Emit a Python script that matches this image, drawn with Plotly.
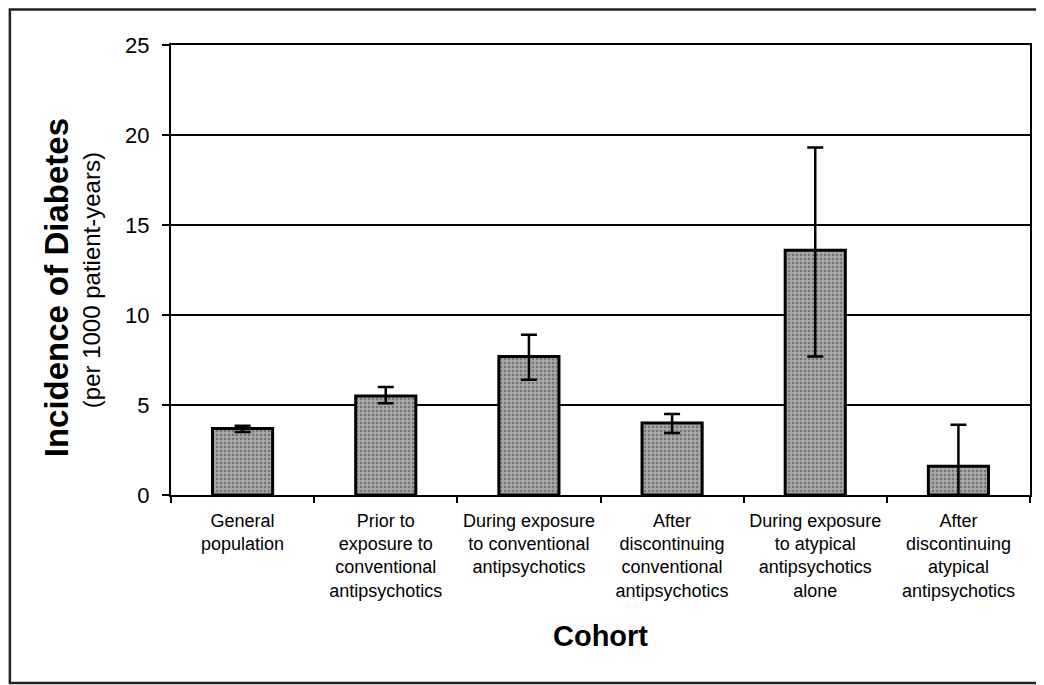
import plotly.graph_objects as go

# ---- data ----
categories = [
    "General<br>population",
    "Prior to<br>exposure to<br>conventional<br>antipsychotics",
    "During exposure<br>to conventional<br>antipsychotics",
    "After<br>discontinuing<br>conventional<br>antipsychotics",
    "During exposure<br>to atypical<br>antipsychotics<br>alone",
    "After<br>discontinuing<br>atypical<br>antipsychotics",
]
incidence = [3.7, 5.5, 7.7, 4.0, 13.6, 1.6]
err_plus = [0.15, 0.5, 1.2, 0.5, 5.7, 2.3]
err_minus = [0.2, 0.4, 1.3, 0.55, 5.9, 1.6]
y_ticks = [0, 5, 10, 15, 20, 25]

# ---- layout geometry (page pixels; the page body adds an 8px offset) ----
OFF = 8
W, H = 1044 - OFF, 685 - OFF
PLOT_L, PLOT_R, PLOT_T, PLOT_B = 171, 1032, 45, 495  # page pixels
ML = PLOT_L - OFF
MT = PLOT_T - OFF
MR = W - (PLOT_R - OFF)
MB = H - (PLOT_B - OFF)
PW, PH = W - ML - MR, H - MT - MB


def px_x(p):
    return (p - OFF - ML) / PW


def px_y(p):
    return (H - MB - (p - OFF)) / PH


FONT = "Arial, Liberation Sans, Helvetica, sans-serif"

fig = go.Figure()
fig.add_trace(go.Bar(
    x=categories,
    y=incidence,
    width=0.42,
    marker=dict(
        color="#a8a8a8",
        line=dict(color="black", width=3),
        pattern=dict(shape=".", fgcolor="#404040", size=4, solidity=0.3, fillmode="overlay"),
    ),
    error_y=dict(
        type="data", symmetric=False, array=err_plus, arrayminus=err_minus,
        color="black", thickness=2.5, width=8,
    ),
    showlegend=False,
))

fig.update_layout(
    width=W, height=H, autosize=False,
    margin=dict(l=ML, r=MR, t=MT, b=MB, pad=0),
    paper_bgcolor="white", plot_bgcolor="white",
    font=dict(family=FONT, color="black"),
    xaxis=dict(
        type="category",
        tickson="boundaries",
        ticks="outside", ticklen=6, tickcolor="black", tickwidth=1.5,
        showline=True, linecolor="black", linewidth=2, mirror=True,
        showgrid=False,
        tickfont=dict(size=18, family=FONT, color="black"),
        ticklabelstandoff=8,
        title=dict(text="<b>Cohort</b>", font=dict(size=29, family=FONT, color="black"), standoff=26),
    ),
    yaxis=dict(
        range=[0, 25],
        tickvals=y_ticks,
        ticks="outside", ticklen=7, tickcolor="black", tickwidth=1.5,
        showline=True, linecolor="black", linewidth=2, mirror=True,
        showgrid=True, gridcolor="black", gridwidth=2,
        zeroline=False,
        tickfont=dict(size=22, family=FONT, color="black"),
        ticklabelstandoff=8,
    ),
    annotations=[
        dict(text="<b>Incidence of Diabetes</b>", textangle=-90,
             xref="paper", yref="paper", x=px_x(56), y=px_y(288),
             xanchor="center", yanchor="middle", showarrow=False,
             font=dict(size=33, family=FONT, color="black")),
        dict(text="(per 1000 patient-years)", textangle=-90,
             xref="paper", yref="paper", x=px_x(91), y=px_y(280),
             xanchor="center", yanchor="middle", showarrow=False,
             font=dict(size=24, family=FONT, color="black")),
    ],
    shapes=[
        dict(type="rect", xref="paper", yref="paper",
             x0=px_x(9.5), x1=px_x(1060), y0=px_y(683), y1=px_y(9.5),
             line=dict(color="#222222", width=2.5), fillcolor="rgba(0,0,0,0)", layer="below"),
    ],
)

fig.write_html("out.html")
